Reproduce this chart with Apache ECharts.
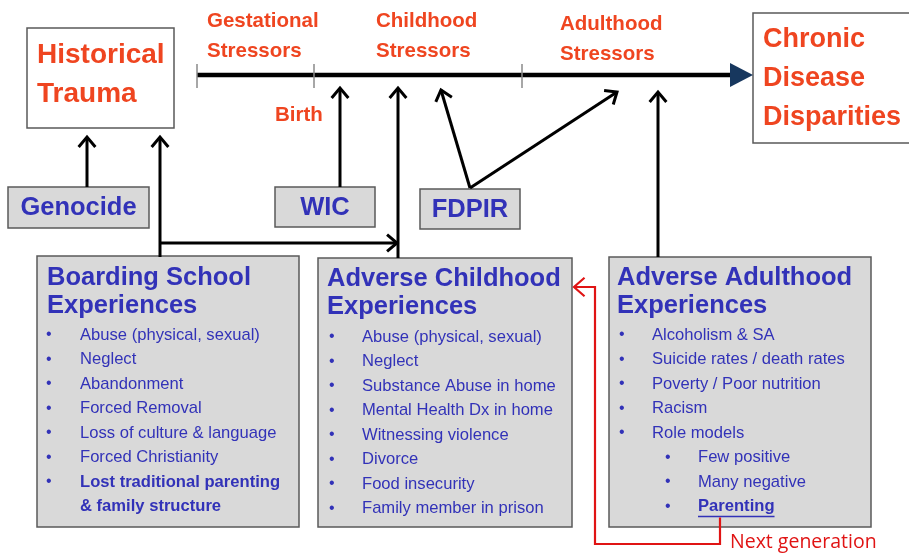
<!DOCTYPE html>
<html>
<head>
<meta charset="utf-8">
<script src="https://cdn.jsdelivr.net/npm/echarts@6/dist/echarts.min.js"></script>
<style>
html,body{margin:0;padding:0;background:#fff;}
#chart{width:909px;height:553px;}
</style>
</head>
<body>
<div id="chart"></div>
<script>
// ---- content (text only) ----
const sourceTitle = ['Historical', 'Trauma'];
const outcomeTitle = ['Chronic', 'Disease', 'Disparities'];
const stageLabels = [['Gestational', 'Stressors'], ['Childhood', 'Stressors'], ['Adulthood', 'Stressors']];
const birthLabel = 'Birth';
const programLabels = ['Genocide', 'WIC', 'FDPIR'];
const boardingTitle = ['Boarding School', 'Experiences'];
const boardingItems = ['Abuse (physical, sexual)', 'Neglect', 'Abandonment', 'Forced Removal',
  'Loss of culture & language', 'Forced Christianity'];
const boardingLastItem = ['Lost traditional parenting', '& family structure'];
const childhoodTitle = ['Adverse Childhood', 'Experiences'];
const childhoodItems = ['Abuse (physical, sexual)', 'Neglect', 'Substance Abuse in home',
  'Mental Health Dx in home', 'Witnessing violence', 'Divorce', 'Food insecurity', 'Family member in prison'];
const adulthoodTitle = ['Adverse Adulthood', 'Experiences'];
const adulthoodItems = ['Alcoholism & SA', 'Suicide rates / death rates', 'Poverty / Poor nutrition', 'Racism', 'Role models'];
const roleModelItems = ['Few positive', 'Many negative'];
const parentingItem = 'Parenting';
const nextGenLabel = 'Next generation';

// ---- drawing ----
const ORANGE = '#EF4520', BLUE = '#3232B8', RED = '#E01414', NAVY = '#17375E';
const FAMILY = 'Liberation Sans';
const els = [];

function txt(x, y, t, size, color, weight, family, align) {
  els.push({type: 'text', z: 10, style: {x: x, y: y, text: t, fill: color,
    fontSize: size, fontWeight: weight || 'normal', fontFamily: family || FAMILY,
    align: align || 'left', verticalAlign: 'middle'}});
}
function box(x, y, w, h, fill) {
  els.push({type: 'rect', z: 2, shape: {x: x, y: y, width: w, height: h},
    style: {fill: fill, stroke: '#5A5A5A', lineWidth: 1.5}});
}
function arrow(pts, color, w, L, ang) {
  els.push({type: 'polyline', z: 5, shape: {points: pts},
    style: {stroke: color, lineWidth: w, fill: null, lineJoin: 'miter'}});
  const p1 = pts[pts.length - 2], p2 = pts[pts.length - 1];
  const a = Math.atan2(p2[1] - p1[1], p2[0] - p1[0]);
  const h = [
    [p2[0] - L * Math.cos(a - ang), p2[1] - L * Math.sin(a - ang)],
    [p2[0], p2[1]],
    [p2[0] - L * Math.cos(a + ang), p2[1] - L * Math.sin(a + ang)]
  ];
  els.push({type: 'polyline', z: 5, shape: {points: h},
    style: {stroke: color, lineWidth: w, fill: null, lineJoin: 'miter', lineCap: 'butt'}});
}
function line(pts, color, w) {
  els.push({type: 'polyline', z: 4, shape: {points: pts}, style: {stroke: color, lineWidth: w, fill: null}});
}
function measure(t, font) {
  const c = document.createElement('canvas').getContext('2d');
  c.font = font;
  return c.measureText(t).width;
}

// Timeline
line([[197, 75], [733, 75]], '#000', 4.5);
[197, 314, 522].forEach(function (x) { line([[x, 64], [x, 88]], '#8A8A8A', 1.5); });
els.push({type: 'polygon', z: 6, shape: {points: [[730, 63], [753, 75], [730, 87]]}, style: {fill: NAVY}});

// Stage labels
const stageX = [207, 376, 560], stageY = [21, 21, 24];
stageLabels.forEach(function (lab, i) {
  txt(stageX[i], stageY[i], lab[0], 20.5, ORANGE, 'bold');
  txt(stageX[i], stageY[i] + 30, lab[1], 20.5, ORANGE, 'bold');
});
txt(275, 115, birthLabel, 20.5, ORANGE, 'bold');

// Historical Trauma
box(27, 28, 147, 100, '#fff');
txt(37, 55, sourceTitle[0], 28, ORANGE, 'bold');
txt(37, 94, sourceTitle[1], 28, ORANGE, 'bold');

// Chronic Disease Disparities
box(753, 13, 170, 130, '#fff');
outcomeTitle.forEach(function (t, i) { txt(763, 40 + i * 39, t, 27, ORANGE, 'bold'); });

// Program boxes
const GRAY = '#D9D9D9';
box(8, 187, 141, 41, GRAY); txt(78.5, 208, programLabels[0], 25.5, BLUE, 'bold', null, 'center');
box(275, 187, 100, 40, GRAY); txt(325, 208, programLabels[1], 25.5, BLUE, 'bold', null, 'center');
box(420, 189, 100, 40, GRAY); txt(470, 209.5, programLabels[2], 25.5, BLUE, 'bold', null, 'center');

// Experience boxes
const STEP = 24.5, ITEM = 16.6;
box(37, 256, 262, 271, GRAY);
txt(47, 278, boardingTitle[0], 25.5, BLUE, 'bold');
txt(47, 306, boardingTitle[1], 25.5, BLUE, 'bold');
boardingItems.forEach(function (t, i) {
  txt(46, 335 + i * STEP, '•', 16, BLUE); txt(80, 335 + i * STEP, t, ITEM, BLUE);
});
const bl = boardingItems.length;
txt(46, 335 + bl * STEP, '•', 16, BLUE);
txt(80, 335 + bl * STEP, boardingLastItem[0], ITEM, BLUE, 'bold');
txt(80, 335 + (bl + 1) * STEP, boardingLastItem[1], ITEM, BLUE, 'bold');

box(318, 258, 254, 269, GRAY);
txt(327, 279, childhoodTitle[0], 25.5, BLUE, 'bold');
txt(327, 307, childhoodTitle[1], 25.5, BLUE, 'bold');
childhoodItems.forEach(function (t, i) {
  txt(329, 337 + i * STEP, '•', 16, BLUE); txt(362, 337 + i * STEP, t, ITEM, BLUE);
});

box(609, 257, 262, 270, GRAY);
txt(617, 278, adulthoodTitle[0], 25.5, BLUE, 'bold');
txt(617, 306, adulthoodTitle[1], 25.5, BLUE, 'bold');
adulthoodItems.forEach(function (t, i) {
  txt(619, 335 + i * STEP, '•', 16, BLUE); txt(652, 335 + i * STEP, t, ITEM, BLUE);
});
roleModelItems.forEach(function (t, i) {
  const y = 335 + (adulthoodItems.length + i) * STEP;
  txt(665, y, '•', 16, BLUE); txt(698, y, t, ITEM, BLUE);
});
const pY = 335 + (adulthoodItems.length + roleModelItems.length) * STEP;
txt(665, pY, '•', 16, BLUE);
txt(698, pY, parentingItem, ITEM, BLUE, 'bold');
const pW = measure(parentingItem, 'bold ' + ITEM + 'px "' + FAMILY + '"');
line([[698, pY + 10], [698 + pW, pY + 10]], BLUE, 1.5);

// Black arrows
arrow([[87, 187], [87, 137]], '#000', 3, 13, 0.7);
arrow([[160, 257], [160, 137]], '#000', 3, 13, 0.7);
arrow([[160, 243], [397, 243]], '#000', 3, 13, 0.7);
arrow([[398, 258], [398, 88]], '#000', 3, 13, 0.7);
arrow([[340, 187], [340, 88]], '#000', 3, 13, 0.7);
arrow([[470, 188], [441, 90]], '#000', 3, 13, 0.7);
arrow([[470, 188], [617, 92]], '#000', 3, 13, 0.7);
arrow([[658, 257], [658, 92]], '#000', 3, 13, 0.7);

// Red next-generation loop
arrow([[720, pY + 11], [720, 544], [595, 544], [595, 287], [574, 287]], RED, 2.2, 14, 0.72);
txt(730, 542, nextGenLabel, 19.5, RED, 'normal', 'Open Sans');

const chart = echarts.init(document.getElementById('chart'), null, {renderer: 'canvas'});
chart.setOption({
  backgroundColor: '#ffffff',
  animation: false,
  graphic: {elements: els}
});
</script>
</body>
</html>
